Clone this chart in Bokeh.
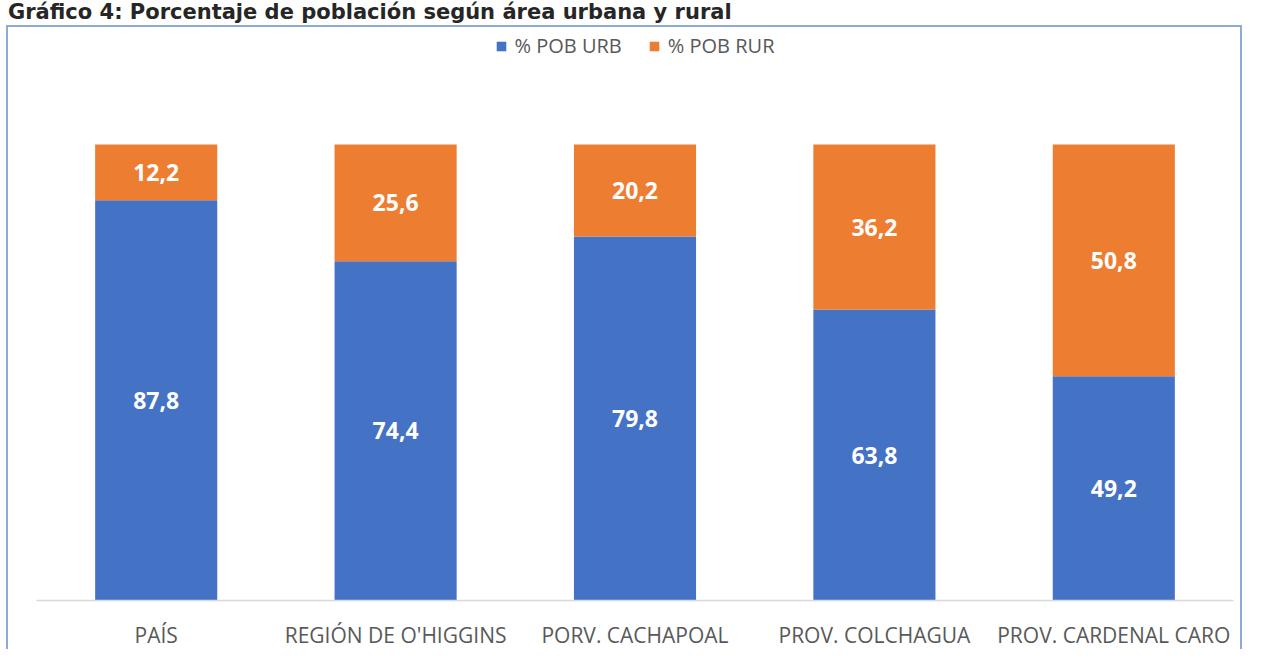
from bokeh.plotting import figure
from bokeh.models import (ColumnDataSource, FactorRange, Range1d, LabelSet, Legend,
                          LegendItem, Div)
from bokeh.layouts import column
from bokeh.core.properties import value
from bokeh.embed import file_html
from bokeh.resources import INLINE

categories = ["PAÍS", "REGIÓN DE O'HIGGINS", "PORV. CACHAPOAL", "PROV. COLCHAGUA", "PROV. CARDENAL CARO"]
pob_urb = [87.8, 74.4, 79.8, 63.8, 49.2]
pob_rur = [12.2, 25.6, 20.2, 36.2, 50.8]
series_names = ["% POB URB", "% POB RUR"]
title_text = "Gráfico 4: Porcentaje de población según área urbana y rural"

BLUE = "#4472c4"
ORANGE = "#ed7d31"
GRAY = "#595959"
BORDER = "#8eaadb"
FONT = "Open Sans"

def fmt(v):
    return f"{v:.1f}".replace(".", ",")

source = ColumnDataSource(data=dict(
    cat=categories,
    urb=pob_urb,
    rur=pob_rur,
    urb_mid=[u / 2 for u in pob_urb],
    rur_mid=[u + r / 2 for u, r in zip(pob_urb, pob_rur)],
    urb_lbl=[fmt(v) for v in pob_urb],
    rur_lbl=[fmt(v) for v in pob_rur],
))

title = Div(text=title_text, width=1240, height=25, margin=(0, 0, 0, 8),
            styles={"font-family": "DejaVu Sans", "font-weight": "bold", "font-size": "21px",
                    "color": "#262626", "line-height": "25px", "white-space": "nowrap"})

p = figure(x_range=FactorRange(*categories, range_padding=0),
           y_range=Range1d(0, 125.66),
           width=1236, height=624, output_backend="svg", toolbar_location=None,
           min_border_left=28, min_border_right=11, min_border_top=0, min_border_bottom=51,
           margin=(0, 0, 0, 6))
p.styles = {"border-top": f"2px solid {BORDER}", "border-left": f"2px solid {BORDER}",
            "border-right": f"2px solid {BORDER}"}

rs = p.vbar_stack(["urb", "rur"], x="cat", width=0.51, color=[BLUE, ORANGE],
                  line_color=None, source=source)

for ycol, tcol in (("urb_mid", "urb_lbl"), ("rur_mid", "rur_lbl")):
    p.add_layout(LabelSet(x="cat", y=ycol, text=tcol, source=source,
                          text_align="center", text_baseline="middle",
                          text_color="white", text_font=value(FONT), text_font_style="bold",
                          text_font_size="23px"))

legend = Legend(items=[LegendItem(label=series_names[0], renderers=[rs[0]]),
                       LegendItem(label=series_names[1], renderers=[rs[1]])],
                orientation="horizontal", location="top_center",
                border_line_color=None, background_fill_alpha=0,
                label_text_font=FONT, label_text_font_size="20px",
                label_text_color=GRAY, glyph_width=12, glyph_height=12,
                spacing=26, label_standoff=8, margin=5, padding=0)
p.add_layout(legend)

p.yaxis.visible = False
p.ygrid.visible = False
p.xgrid.visible = False
p.outline_line_color = None
p.xaxis.axis_line_color = "#d9d9d9"
p.xaxis.axis_line_width = 1.5
p.xaxis.major_tick_line_color = None
p.xaxis.minor_tick_line_color = None
p.xaxis.major_label_text_font = FONT
p.xaxis.major_label_text_font_size = "21px"
p.xaxis.major_label_text_color = GRAY
p.xaxis.major_label_standoff = 14

layout = column(title, p, spacing=0)
open("out.html", "w").write(file_html(layout, INLINE))
